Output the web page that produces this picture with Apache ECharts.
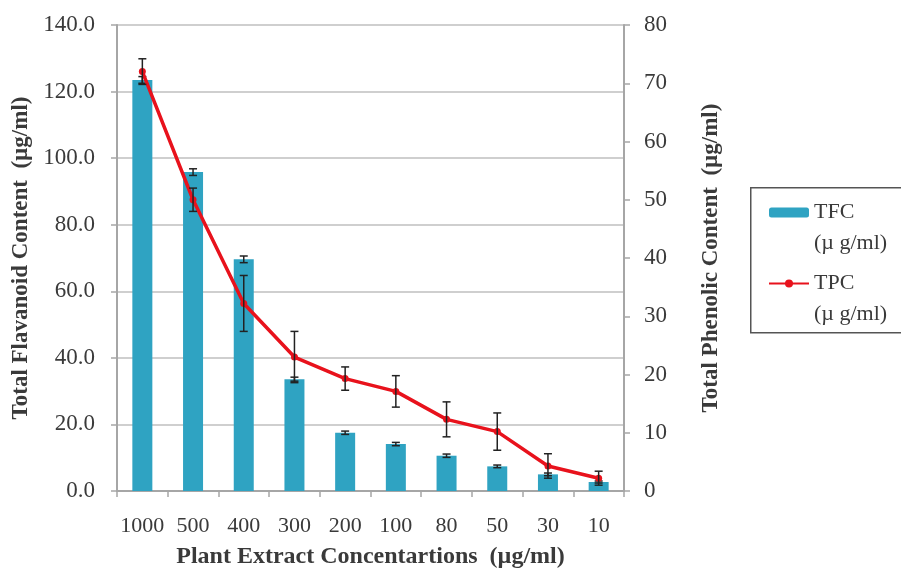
<!DOCTYPE html>
<html>
<head>
<meta charset="utf-8">
<script src="https://cdn.jsdelivr.net/npm/echarts@6/dist/echarts.min.js"></script>
<style>
  html, body { margin: 0; padding: 0; background: #fff; }
  #chart { width: 901px; height: 574px; }
</style>
</head>
<body>
<div id="chart"></div>
<script>
// concentrations (µg/ml)
var categories = ["1000", "500", "400", "300", "200", "100", "80", "50", "30", "10"];
// total flavanoid content, left axis
var tfcValues = [123.5, 95.8, 69.6, 33.6, 17.5, 14.1, 10.6, 7.4, 5.0, 2.7];
var tfcErrors = [1.0, 1.0, 1.0, 0.6, 0.5, 0.5, 0.5, 0.4, 0.4, 0.3];
// total phenolic content, right axis
var tpcValues = [72, 50, 32.2, 23, 19.3, 17.1, 12.3, 10.2, 4.3, 2.2];
var tpcErrors = [2.2, 2.0, 4.8, 4.4, 2.0, 2.7, 3.0, 3.2, 2.1, 1.2];

var serif = "Liberation Serif";
var gray = "#a6a6a6";
var textColor = "#3a3a3a";

function errorData(values, errors) {
  return values.map(function (v, i) {
    return [i, v - errors[i], v + errors[i]];
  });
}

function renderError(params, api) {
  var lo = api.coord([api.value(0), api.value(1)]);
  var hi = api.coord([api.value(0), api.value(2)]);
  var cap = 4;
  var style = { stroke: "#222", lineWidth: 1.5, fill: null };
  return {
    type: "group",
    children: [
      { type: "line", shape: { x1: lo[0], y1: lo[1], x2: hi[0], y2: hi[1] }, style: style },
      { type: "line", shape: { x1: lo[0] - cap, y1: lo[1], x2: lo[0] + cap, y2: lo[1] }, style: style },
      { type: "line", shape: { x1: hi[0] - cap, y1: hi[1], x2: hi[0] + cap, y2: hi[1] }, style: style }
    ]
  };
}

var chart = echarts.init(document.getElementById("chart"));

chart.setOption({
  animation: false,
  textStyle: { fontFamily: serif },
  grid: { left: 117, right: 277, top: 25, bottom: 74 },
  // legend frame (the legend itself has no border, its items sit inside)
  graphic: [{
    type: "rect",
    left: 750,
    top: 187,
    shape: { width: 170, height: 145 },
    style: { fill: "#fff", stroke: "#555", lineWidth: 1.5 },
    z: 0
  }],
  legend: {
    orient: "vertical",
    left: 768,
    top: 166,
    itemWidth: 40,
    itemHeight: 10,
    itemGap: -22,
    padding: 0,
    // leading empty line keeps the icon level with the first text line
    formatter: function (name) { return "\n" + name + "\n(µ g/ml)"; },
    textStyle: {
      fontFamily: serif,
      fontSize: 22,
      color: textColor,
      lineHeight: 31
    },
    data: ["TFC", "TPC"],
    z: 10
  },
  xAxis: {
    type: "category",
    data: categories,
    name: "Plant Extract Concentartions  (µg/ml)",
    nameLocation: "middle",
    nameGap: 54,
    nameTextStyle: { fontFamily: serif, fontSize: 24, fontWeight: "bold", color: textColor },
    axisLine: { lineStyle: { color: gray, width: 2 } },
    axisTick: { show: true, length: 6, lineStyle: { color: gray, width: 1.5 } },
    axisLabel: { fontFamily: serif, fontSize: 22, color: textColor, margin: 24, interval: 0 }
  },
  yAxis: [
    {
      type: "value",
      min: 0,
      max: 140,
      interval: 20,
      name: "Total Flavanoid Content  (µg/ml)",
      nameLocation: "middle",
      nameRotate: 90,
      nameGap: 84,
      nameTextStyle: { fontFamily: serif, fontSize: 23, fontWeight: "bold", color: textColor },
      axisLine: { show: true, lineStyle: { color: gray, width: 2 } },
      axisTick: { show: true, length: 6, lineStyle: { color: gray, width: 1.5 } },
      axisLabel: {
        fontFamily: serif, fontSize: 23, color: textColor, margin: 22,
        formatter: function (v) { return v.toFixed(1); }
      },
      splitLine: { show: true, lineStyle: { color: "#bfbfbf", width: 1.5 } }
    },
    {
      type: "value",
      min: 0,
      max: 80,
      interval: 10,
      position: "right",
      name: "Total Phenolic Content  (µg/ml)",
      nameLocation: "middle",
      nameRotate: 90,
      nameGap: 76,
      nameTextStyle: { fontFamily: serif, fontSize: 23, fontWeight: "bold", color: textColor },
      axisLine: { show: true, lineStyle: { color: gray, width: 2 } },
      axisTick: { show: true, length: 6, lineStyle: { color: gray, width: 1.5 } },
      axisLabel: { fontFamily: serif, fontSize: 23, color: textColor, margin: 20 },
      splitLine: { show: false }
    }
  ],
  series: [
    {
      name: "TFC",
      type: "bar",
      yAxisIndex: 0,
      data: tfcValues,
      barWidth: 20,
      itemStyle: { color: "#2fa3c2" },
      z: 2
    },
    {
      name: "TFC err",
      type: "custom",
      yAxisIndex: 0,
      data: errorData(tfcValues, tfcErrors),
      renderItem: renderError,
      z: 3
    },
    {
      name: "TPC",
      type: "line",
      yAxisIndex: 1,
      data: tpcValues,
      symbol: "circle",
      symbolSize: 7,
      lineStyle: { color: "#e8121c", width: 3.5 },
      itemStyle: { color: "#e8121c" },
      z: 4
    },
    {
      name: "TPC err",
      type: "custom",
      yAxisIndex: 1,
      data: errorData(tpcValues, tpcErrors),
      renderItem: renderError,
      z: 5
    }
  ]
});
</script>
</body>
</html>
